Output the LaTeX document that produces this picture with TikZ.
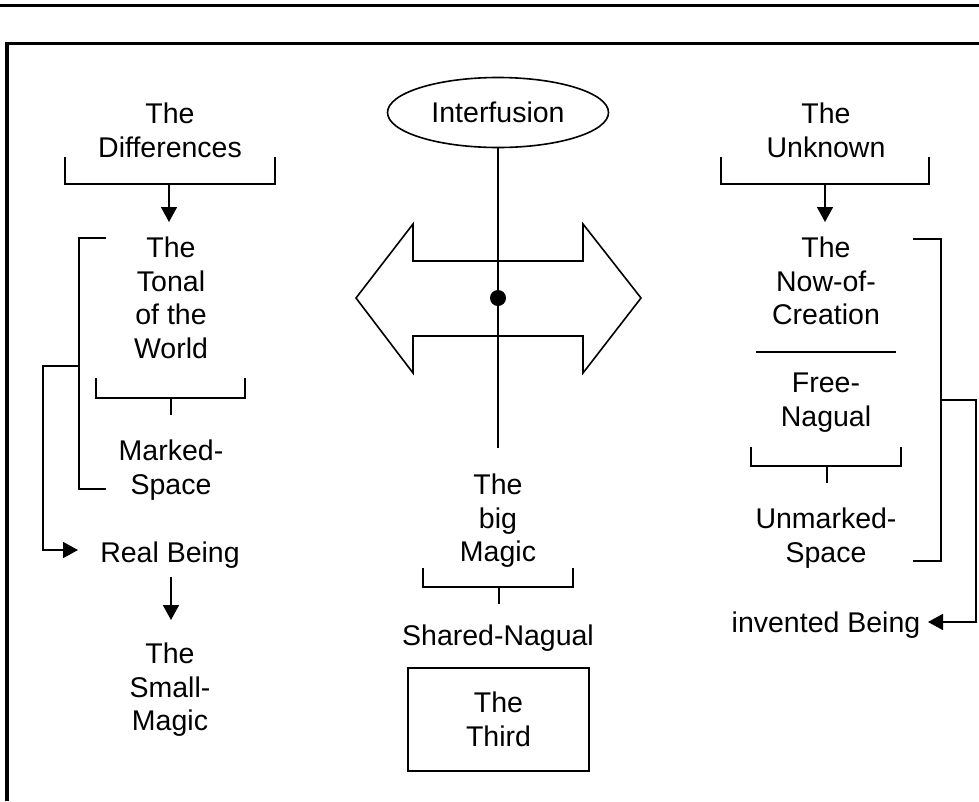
\documentclass[tikz,border=0pt]{standalone}
\usepackage{fontspec}
\setmainfont{Liberation Sans}
\usetikzlibrary{shapes.geometric,arrows.meta}

\begin{document}
\begin{tikzpicture}
          [x=1pt,y=-1pt,line width=1.6pt,
           every node/.style={align=center,inner sep=0pt,anchor=north,font=\fontsize{28.5}{33.5}\selectfont},
           arr/.style={-{Triangle[length=15pt,width=16pt]}}]
          \useasboundingbox (0,0) rectangle (979,801);

          % frame
          \draw[line width=3.5pt] (0,5.5) -- (979,5.5);
          \draw[line width=3.5pt] (7,801) -- (7,43.5) -- (979,43.5);

          % left column
          \node (diff) at (170,102.5) {The\\Differences};
          \node (tonal) at (171,236.5) {The\\Tonal\\of the\\World};
          \node (marked) at (171,439.5) {Marked-\\Space};
          \node (real) at (170,541.5) {Real Being};
          \node (small) at (170,642.5) {The\\Small-\\Magic};

          % middle column
          \node[draw,ellipse,anchor=center,minimum width=221pt,minimum height=70pt] (inter) at (498,112.5) {Interfusion};
          \node[circle,fill,anchor=center,minimum size=16pt] (hub) at (498,298) {};
          \node (big) at (498,473.5) {The\\big\\Magic};
          \node (shared) at (498,624.5) {Shared-Nagual};
          \node[draw,anchor=center,minimum width=181pt,minimum height=103pt] (third) at (498.5,719.5) {The\\Third};

          % right column
          \node (unknown) at (826,102.5) {The\\Unknown};
          \node (now) at (826,236.5) {The\\Now-of-\\Creation};
          \node (free) at (826,372.5) {Free-\\Nagual};
          \node (unmarked) at (826,507.5) {Unmarked-\\Space};
          \node (invented) at (826,611.5) {invented Being};

          \coordinate (diffb) at (169,184);
          \coordinate (tonalt) at (169,222);
          \coordinate (realb) at (171,577);
          \coordinate (smallt) at (171,620);
          \coordinate (unknownb) at (825,184);
          \coordinate (nowt) at (825,222);
          \coordinate (realin) at (78,550);
          \coordinate (inventedin) at (928,622);
          \coordinate (stemend) at (498,448);

          % brackets
          \foreach \l/\r/\t/\b in {65/275/157/184,96/245/378/398,423/573/568/587,721/929/157/184,751/901/447/466}
            \draw (\l,\t) |- (\r,\b) -- (\r,\t);
          \foreach \x/\t in {171/398,499/587,827/466}
            \draw (\x,\t) -- (\x,\t+17);
          \draw (106,238) -- (79,238) -- (79,489) -- (106,489);
          \draw (913,239) -- (941,239) -- (941,561) -- (913,561);
          \draw (756,352) -- (896,352);

          % double arrow
          \draw (356,298) -- (413,224) -- (413,261) -- (583,261) -- (583,224) -- (641,298)
            -- (583,373) -- (583,336) -- (413,336) -- (413,373) -- cycle;
          \draw[line width=2.5pt] (inter.south) -- (hub.center);
          \draw (hub.center) -- (stemend);

          \foreach \from/\to in {diffb/tonalt,realb/smallt,unknownb/nowt}
            \draw[arr] (\from) -- (\to);
          \draw[arr] (79,366) -- (43,366) |- (realin);
          \draw[arr] (941,400) -- (976,400) |- (inventedin);

        \end{tikzpicture}
\end{document}
